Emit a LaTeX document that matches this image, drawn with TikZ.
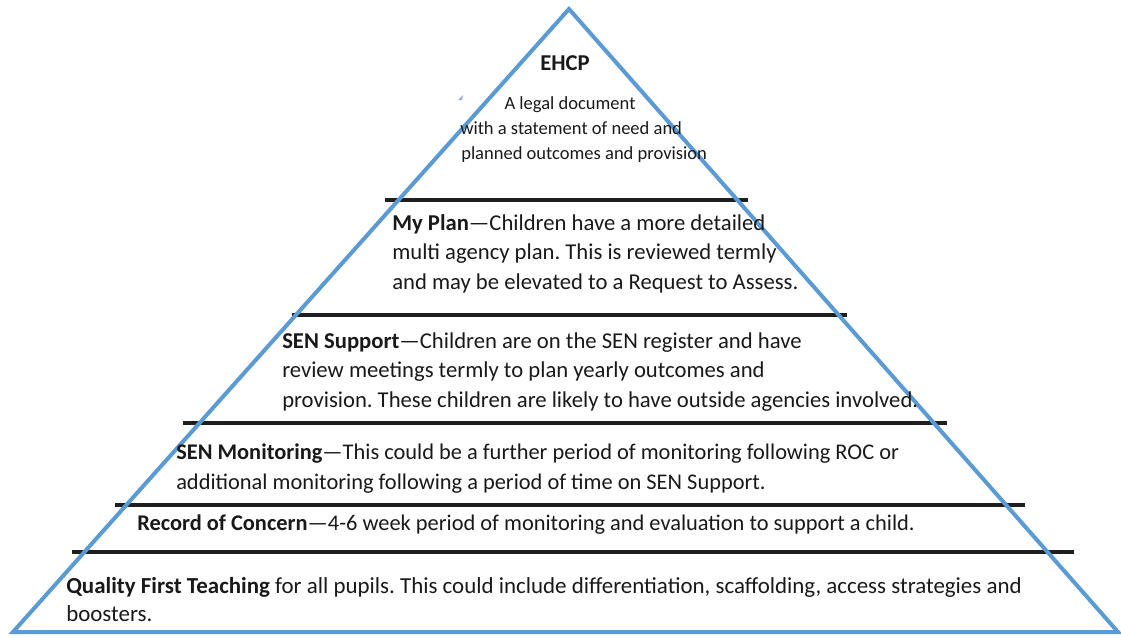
\documentclass[tikz,border=0pt]{standalone}
\usepackage{fontspec}
\setmainfont{Carlito}
\frenchspacing
\definecolor{triblue}{RGB}{91,155,213}
\definecolor{artif}{RGB}{150,175,200}
\begin{document}
\begin{tikzpicture}[x=0.75pt,y=-0.75pt,
  tier/.style={line width=2.4pt, draw=black!88},
  txt/.style={anchor=north west, inner sep=0pt, align=left, text=black!90,
    font=\fontsize{17}{22.2}\selectfont},
  small/.style={inner sep=0pt, align=center, text=black!90,
    font=\fontsize{13.9}{18.8}\selectfont}]
\useasboundingbox (0,0) rectangle (1121,637);
% tiers
\coordinate (l1) at (385,200); \coordinate (r1) at (748,200);
\coordinate (l2) at (292,315); \coordinate (r2) at (847,315);
\coordinate (l3) at (183,423); \coordinate (r3) at (947,423);
\coordinate (l4) at (115,505); \coordinate (r4) at (1025,505);
\coordinate (l5) at (72,552);  \coordinate (r5) at (1074,552);
\foreach \i in {1,...,5} \draw[tier] (l\i) -- (r\i);
% triangle
\coordinate (apex) at (569,9);
\coordinate (bl) at (13,632);
\coordinate (br) at (1118,632);
\draw[line width=3pt, draw=triblue, line join=miter] (apex) -- (bl) -- (br) -- cycle;
% small artifact
\fill[artif] (458,100) -- (463,95) -- (462,100) -- cycle;
% texts
\node[small, font=\fontsize{17}{20}\selectfont\bfseries] (ehcp) at (565,63) {EHCP};
\node[small, anchor=north] (legal1) at (570,96) {A legal document};
\node[small, anchor=north west] (legal2) at (460,121) {with a statement of need and};
\node[small, anchor=north west] (legal3) at (461,146) {planned outcomes and provision};
\node[txt] (myplan) at (392,214) {\textbf{My Plan}—Children have a more detailed\\multi agency plan. This is reviewed termly\\and may be elevated to a Request to Assess.};
\node[txt] (sensup) at (282,332) {\textbf{SEN Support}—Children are on the SEN register and have\\review meetings termly to plan yearly outcomes and\\provision. These children are likely to have outside agencies involved.};
\node[txt, font=\fontsize{16.8}{22.2}\selectfont] (senmon) at (176,444) {\textbf{SEN Monitoring}—This could be a further period of monitoring following ROC or\\additional monitoring following a period of time on SEN Support.};
\node[txt, font=\fontsize{16.8}{22.2}\selectfont] (roc) at (137,515) {\textbf{Record of Concern}—4-6 week period of monitoring and evaluation to support a child.};
\node[txt, font=\fontsize{17.2}{21}\selectfont] (qft) at (66,577) {\textbf{Quality First Teaching} for all pupils. This could include differentiation, scaffolding, access strategies and\\boosters.};
\end{tikzpicture}
\end{document}
